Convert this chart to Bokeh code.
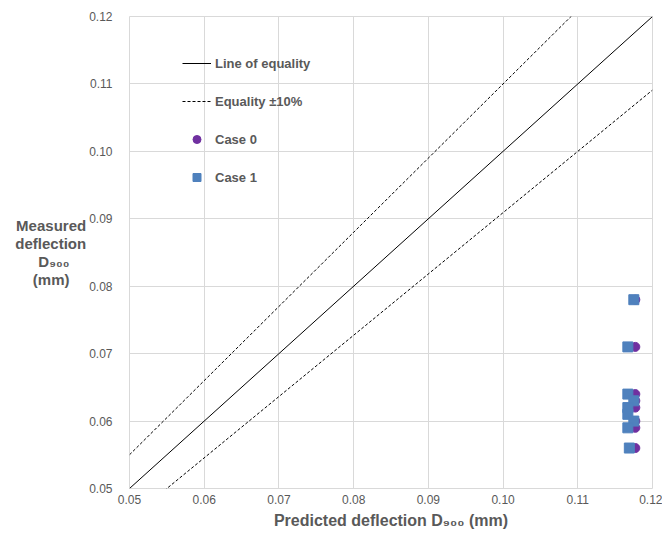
from bokeh.plotting import figure
from bokeh.models import (FixedTicker, Legend, LegendItem, Range1d)
from bokeh.embed import file_html
from bokeh.resources import INLINE

# ---- data ----
tick_values = [0.05, 0.06, 0.07, 0.08, 0.09, 0.10, 0.11, 0.12]
tick_labels = ["0.05", "0.06", "0.07", "0.08", "0.09", "0.10", "0.11", "0.12"]

equality_x = [0.05, 0.12]
tolerance = 0.10

case0_pred = [0.1177, 0.1177, 0.1177, 0.1177, 0.1177, 0.1177, 0.1177, 0.1177]
case0_meas = [0.078, 0.071, 0.064, 0.063, 0.062, 0.060, 0.059, 0.056]

case1_pred = [0.1175, 0.1167, 0.1167, 0.1175, 0.1167, 0.1167, 0.1175, 0.1167, 0.1169]
case1_meas = [0.078, 0.071, 0.064, 0.063, 0.062, 0.061, 0.060, 0.059, 0.056]

NB = "\u00a0"
x_title = "Predicted deflection D\u2089\u2080\u2080 (mm)"
y_title_lines = ["Measured", "deflection", "D\u2089\u2080\u2080" + NB * 4, "(mm)" + NB * 4]

TXT = "#595959"
GRID = "#d9d9d9"

p = figure(frame_width=523, frame_height=472,
           min_border_left=129, min_border_right=10, min_border_top=16, min_border_bottom=48,
           x_range=Range1d(0.05, 0.12), y_range=Range1d(0.05, 0.12),
           output_backend="svg", toolbar_location=None)
p.background_fill_color = "white"
p.border_fill_color = "white"
p.outline_line_color = GRID

for ax in (p.xaxis[0], p.yaxis[0]):
    ax.ticker = FixedTicker(ticks=tick_values)
    ax.major_label_overrides = {v: s for v, s in zip(tick_values, tick_labels)}
    ax.axis_line_color = None
    ax.major_tick_line_color = None
    ax.minor_tick_line_color = None
    ax.major_label_text_color = TXT
    ax.major_label_text_font = "Liberation Sans"
    ax.major_label_text_font_size = "12px"
    ax.axis_label_text_color = TXT
    ax.axis_label_text_font = "Liberation Sans"
    ax.axis_label_text_font_style = "bold"
p.yaxis.major_label_standoff = 11
p.xaxis.major_label_standoff = 0

p.xaxis.axis_label = x_title
p.xaxis.axis_label_text_font_size = "16px"
p.xaxis.axis_label_standoff = 5

p.yaxis.axis_label = "\n".join(y_title_lines)
p.yaxis.axis_label_orientation = "horizontal"
p.yaxis.axis_label_text_font_size = "15px"
p.yaxis.axis_label_text_line_height = 1.05
p.yaxis.axis_label_standoff = 0

p.xgrid.ticker = FixedTicker(ticks=tick_values)
p.ygrid.ticker = FixedTicker(ticks=tick_values)
p.grid.grid_line_color = GRID
p.grid.grid_line_width = 1

eq_y = list(equality_x)
up_y = [v * (1 + tolerance) for v in equality_x]
lo_y = [v / (1 + tolerance) for v in equality_x]

r_eq = p.line(equality_x, eq_y, line_color="black", line_width=1)
r_up = p.line(equality_x, up_y, line_color="black", line_width=1, line_dash="3 2")
p.line(equality_x, lo_y, line_color="black", line_width=1, line_dash="3 2")

r_c0 = p.scatter(case0_pred, case0_meas, marker="circle", size=9,
                 fill_color="#7030A0", line_color="#7030A0")
r_c1 = p.scatter(case1_pred, case1_meas, marker="square", size=10,
                 fill_color="#4F81BD", line_color="#4F81BD")

legend = Legend(items=[
    LegendItem(label="Line of equality", renderers=[r_eq]),
    LegendItem(label="Equality ±10%", renderers=[r_up]),
    LegendItem(label="Case 0", renderers=[r_c0]),
    LegendItem(label="Case 1", renderers=[r_c1]),
], location=(53, 301))
legend.background_fill_alpha = 0
legend.border_line_color = None
legend.padding = 0
legend.margin = 0
legend.spacing = 18
legend.glyph_width = 29
legend.glyph_height = 20
legend.label_height = 20
legend.label_standoff = 4
legend.label_text_font = "Liberation Sans"
legend.label_text_font_style = "bold"
legend.label_text_font_size = "13px"
legend.label_text_color = TXT
p.add_layout(legend)

open("out.html", "w").write(file_html(p, INLINE))
